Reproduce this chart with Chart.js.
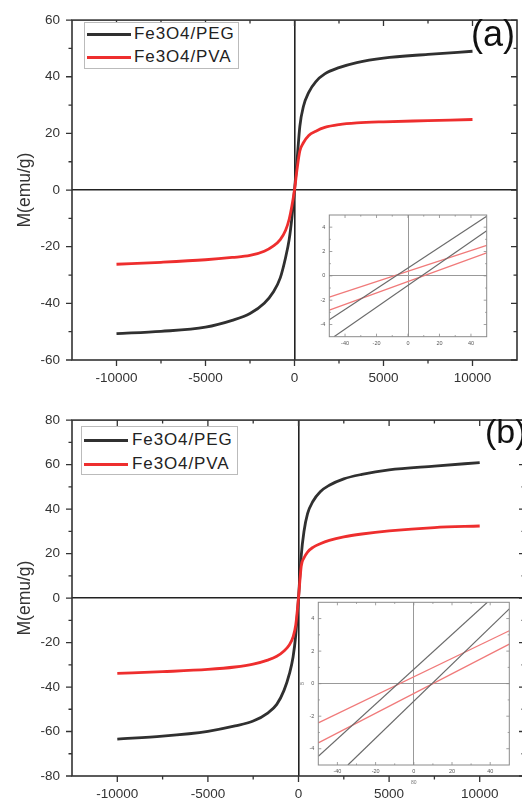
<!DOCTYPE html>
<html>
<head>
<meta charset="utf-8">
<script src="https://cdn.jsdelivr.net/npm/chart.js@4.4.1/dist/chart.umd.min.js"></script>
<style>
  html, body { margin: 0; padding: 0; background: #fff; }
  #page { position: relative; width: 522px; height: 805px; overflow: hidden; font-family: 'Liberation Sans', Arial, sans-serif; }
  canvas { position: absolute; }
  .legend { position: absolute; box-sizing: border-box; border: 1px solid #bbb; background: #fff; }
  .legend span { position: absolute; font-size: 17px; letter-spacing: 0.9px; color: #222; line-height: 20px; white-space: nowrap; }
  .legend i { position: absolute; left: 2px; width: 44px; height: 2.8px; }
  .tag { position: absolute; color: #111; line-height: 1; }
</style>
</head>
<body>
<div id="page">
  <canvas id="chartA" width="522" height="400" style="left:0;top:0"></canvas>
  <canvas id="chartB" width="530" height="405" style="left:0;top:400px"></canvas>
  <canvas id="insetA" width="190" height="145" style="left:305px;top:205px"></canvas>
  <canvas id="insetB" width="230" height="195" style="left:290px;top:592px"></canvas>

  <div class="legend" style="left:84px;top:22px;width:155px;height:47px">
    <i style="top:10px;background:#303030"></i><span style="left:49px;top:1px">Fe3O4/PEG</span>
    <i style="top:33px;background:#ee2e2e"></i><span style="left:49px;top:24px">Fe3O4/PVA</span>
  </div>
  <div class="legend" style="left:81px;top:426px;width:157px;height:49px">
    <i style="top:12px;background:#303030"></i><span style="left:50px;top:3px">Fe3O4/PEG</span>
    <i style="top:36px;background:#ee2e2e"></i><span style="left:50px;top:27px">Fe3O4/PVA</span>
  </div>
  <div class="tag" style="left:471px;top:16px;font-size:36px">(a)</div>
  <div class="tag" style="left:485px;top:414px;font-size:34px">(b)</div>
</div>

<script>
// applied field (Oe) and magnetization (emu/g)
const field = [-10000, -7500, -5000, -3500, -2500, -1700, -1200, -800, -500, -300, -150, 0, 150, 300, 500, 800, 1200, 1700, 2500, 3500, 5000, 7500, 10000];
const pegA = [-50.7, -49.9, -48.4, -46.0, -43.6, -40.0, -36.1, -31.0, -23.8, -17.5, -10.0, 0, 11.0, 22.5, 29.5, 34.5, 38.3, 41.0, 43.2, 45.0, 46.6, 47.9, 49.0];
const pvaA = [-26.2, -25.5, -24.6, -23.8, -23.1, -21.6, -19.8, -17.5, -14.2, -10.3, -5.7, 0, 7.7, 13.8, 16.7, 19.3, 20.8, 22.1, 23.1, 23.7, 24.1, 24.5, 24.9];
const pegB = [-63.4, -62.1, -59.9, -57.5, -55.3, -51.7, -47.8, -41.5, -34.0, -26.5, -16.5, 0, 19.0, 29.8, 37.9, 43.5, 47.8, 50.7, 53.6, 55.6, 57.6, 59.3, 60.9];
const pvaB = [-33.9, -33.1, -32.1, -31.0, -29.7, -27.9, -26.2, -23.8, -21.0, -17.5, -12.0, 0, 14.3, 18.0, 20.7, 22.8, 24.4, 25.9, 27.5, 28.8, 30.2, 31.7, 32.4];

const xTicks = [-10000, -5000, 0, 5000, 10000];
const yTicksA = [-60, -40, -20, 0, 20, 40, 60];
const yTicksB = [-80, -60, -40, -20, 0, 20, 40, 60, 80];

// insets: the two branches of each loop near zero field, [field, M]
const insetTicksX = [-40, -20, 0, 20, 40];
const insetTicksY = [-4, -2, 0, 2, 4];
const pegUpA = [[-50, -3.6], [50, 4.9]];
const pegLowA = [[-47, -5], [50, 3.7]];
const pvaUpA = [[-50, -1.75], [50, 2.5]];
const pvaLowA = [[-50, -2.82], [50, 1.89]];
const pegUpB = [[-50, -4.46], [38.5, 5]];
const pegLowB = [[-34.5, -5], [50, 4.6]];
const pvaUpB = [[-50, -2.41], [50, 3.25]];
const pvaLowB = [[-50, -3.64], [50, 2.43]];

Chart.defaults.font.family = "'Liberation Sans', Arial, sans-serif";
Chart.defaults.color = '#333';

const toXY = (xs, ys) => xs.map((v, i) => ({ x: v, y: ys[i] }));
const pairXY = (pts) => pts.map(([x, y]) => ({ x, y }));
const fixTicks = (values) => (scale) => { scale.ticks = values.map(v => ({ value: v })); };

// box frame + major/minor tick marks on all four sides
const framePlugin = {
  id: 'frame',
  afterDatasetsDraw(chart, args, o) {
    const { ctx, chartArea: a, scales: { x, y } } = chart;
    const marks = (scale) => {
      const vals = scale.ticks.map(t => t.value);
      const step = vals[1] - vals[0];
      const list = vals.map(v => [v, o.major]);
      for (let v = vals[0] - step / 2; v < scale.max; v += step) {
        if (v > scale.min) list.push([v, o.minor]);
      }
      return list;
    };
    const dir = o.outward ? 1 : -1;
    ctx.save();
    ctx.strokeStyle = o.color;
    ctx.lineWidth = o.width;
    ctx.strokeRect(a.left, a.top, a.right - a.left, a.bottom - a.top);
    ctx.lineWidth = o.tickWidth;
    ctx.beginPath();
    marks(x).forEach(([v, len]) => {
      const px = x.getPixelForValue(v);
      ctx.moveTo(px, a.bottom); ctx.lineTo(px, a.bottom + dir * len);
      ctx.moveTo(px, a.top); ctx.lineTo(px, a.top + len);
    });
    marks(y).forEach(([v, len]) => {
      const py = y.getPixelForValue(v);
      ctx.moveTo(a.left, py); ctx.lineTo(a.left - dir * len, py);
      ctx.moveTo(a.right, py); ctx.lineTo(a.right - len, py);
    });
    ctx.stroke();
    ctx.restore();
  }
};

const zeroLine = (color) => (c) => (c.tick && c.tick.value === 0 ? color : 'transparent');

function mainChart(id, box, yMin, yMax, yTicks, peg, pva) {
  return new Chart(document.getElementById(id), {
    type: 'line',
    data: {
      datasets: [
        { label: 'Fe3O4/PEG', data: toXY(field, peg), borderColor: '#303030', order: 1 },
        { label: 'Fe3O4/PVA', data: toXY(field, pva), borderColor: '#ee2e2e', order: 0 },
      ],
    },
    options: {
      responsive: false,
      animation: false,
      layout: { padding: { top: box.top, right: box.right, left: 0, bottom: 0 } },
      elements: {
        point: { radius: 0 },
        line: { borderWidth: 2.8, cubicInterpolationMode: 'monotone' },
      },
      plugins: {
        legend: { display: false },
        tooltip: { enabled: false },
        frame: { color: '#333', width: 1.6, tickWidth: 1.3, major: 6, minor: 3.5, outward: true },
      },
      scales: {
        x: {
          type: 'linear', min: -12500, max: 12500,
          afterBuildTicks: fixTicks(xTicks),
          afterFit: (s) => { s.height = box.bottom; },
          grid: { color: zeroLine('#222'), lineWidth: 1.6, drawTicks: false },
          border: { display: false },
          ticks: { padding: 10, autoSkip: false, maxRotation: 0, font: { size: 13.5 }, callback: (v) => String(v) },
        },
        y: {
          min: yMin, max: yMax,
          afterBuildTicks: fixTicks(yTicks),
          afterFit: (s) => { s.width = box.left; },
          grid: { color: zeroLine('#222'), lineWidth: 1.6, drawTicks: false },
          border: { display: false },
          title: { display: true, text: 'M(emu/g)', font: { size: 17.5 }, color: '#333', padding: { top: 15, bottom: 0 } },
          ticks: { padding: 12, autoSkip: false, font: { size: 13.5 }, callback: (v) => String(v) },
        },
      },
    },
    plugins: [framePlugin],
  });
}

function insetChart(id, box, lines, titles) {
  const black = '#6a6a6a', red = '#f07a7a';
  return new Chart(document.getElementById(id), {
    type: 'line',
    data: {
      datasets: [
        { data: pairXY(lines[0]), borderColor: black },
        { data: pairXY(lines[1]), borderColor: black },
        { data: pairXY(lines[2]), borderColor: red },
        { data: pairXY(lines[3]), borderColor: red },
      ],
    },
    options: {
      responsive: false,
      animation: false,
      layout: { padding: { top: box.top, right: box.right, left: 0, bottom: 0 } },
      elements: { point: { radius: 0 }, line: { borderWidth: 1.2, tension: 0 } },
      plugins: {
        legend: { display: false },
        tooltip: { enabled: false },
        frame: { color: '#8a8a8a', width: 1, tickWidth: 0.8, major: 3, minor: 1.6, outward: false },
      },
      scales: {
        x: {
          type: 'linear', min: -50, max: 50,
          afterBuildTicks: fixTicks(insetTicksX),
          afterFit: (s) => { s.height = box.bottom; },
          grid: { color: zeroLine('#999'), lineWidth: 1, drawTicks: false },
          border: { display: false },
          title: { display: !!titles, text: titles ? titles[0] : '', font: { size: 5 }, color: '#777', padding: { top: 0, bottom: 1 } },
          ticks: { padding: 3, autoSkip: false, maxRotation: 0, font: { size: 5.5 }, color: '#555', callback: (v) => String(v) },
        },
        y: {
          min: -5, max: 5,
          afterBuildTicks: fixTicks(insetTicksY),
          afterFit: (s) => { s.width = box.left; },
          grid: { color: zeroLine('#999'), lineWidth: 1, drawTicks: false },
          border: { display: false },
          title: { display: !!titles, text: titles ? titles[1] : '', font: { size: 5 }, color: '#777', padding: { top: 9.5, bottom: 0 } },
          ticks: { padding: 4, autoSkip: false, font: { size: 5.5 }, color: '#555', callback: (v) => String(v) },
        },
      },
    },
    plugins: [framePlugin],
  });
}

mainChart('chartA', { left: 72, top: 12, right: 5, bottom: 40 }, -60, 60, yTicksA, pegA, pvaA);
mainChart('chartB', { left: 72, top: 15, right: 5, bottom: 29 }, -80, 80, yTicksB, pegB, pvaB);
insetChart('insetA', { left: 24.3, top: 10, right: 8.3, bottom: 13.3 }, [pegUpA, pegLowA, pvaUpA, pvaLowA]);
insetChart('insetB', { left: 28.3, top: 10.3, right: 10.7, bottom: 22 }, [pegUpB, pegLowB, pvaUpB, pvaLowB], ['80', 'B']);
</script>
</body>
</html>
